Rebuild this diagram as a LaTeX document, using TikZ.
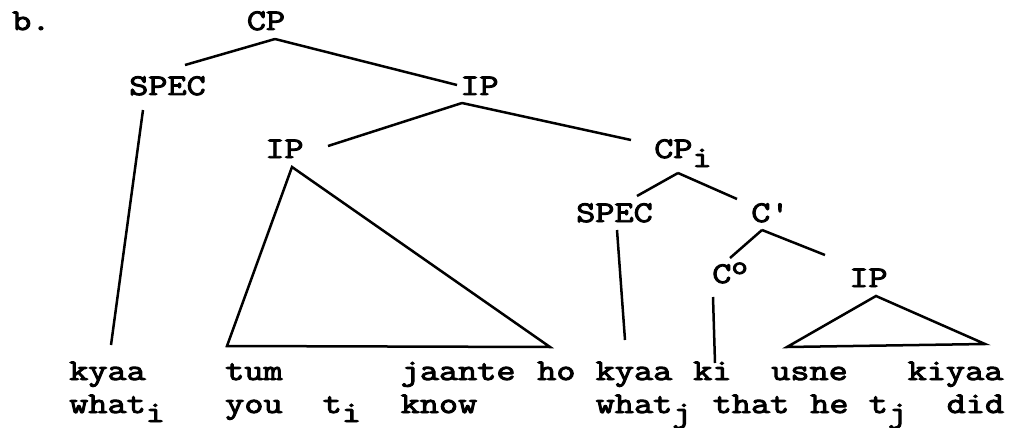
\documentclass[tikz,border=0pt]{standalone}
\usepackage{fontspec}
\setmonofont[FakeStretch=1.238, FakeBold=3.2]{Latin Modern Mono}
\newcommand{\lowr}[1]{\raisebox{-9pt}{#1}}
\newcommand{\highr}[1]{\raisebox{9pt}{\fontsize{26}{26}\selectfont #1}}
\begin{document}
\begin{tikzpicture}[x=1pt, y=-1pt, line width=2.5pt,
        every node/.style={inner sep=0pt, font=\ttfamily\fontsize{30}{36}\selectfont},
        lab/.style={anchor=base},
        word/.style={anchor=base west}]
            \useasboundingbox (0,0) rectangle (1009,428);

            \node[word] (item) at (11, 30) {b.};

            % categories
            \node[lab] (cp) at (266, 30) {CP};
            \node[lab] (spec) at (167.5, 95) {SPEC};
            \node[lab] (ip) at (479.5, 95) {IP};
            \node[lab] (iplow) at (284.5, 158) {IP};
            \node[word] (cpi) at (653, 158) {CP\lowr{i}};
            \node[lab] (specj) at (614.5, 222) {SPEC};
            \node[word] (cbar) at (750, 222) {C'};
            \node[word] (czero) at (711, 283) {C\highr{o}};
            \node[lab] (ipc) at (868.5, 287) {IP};

            % end points of the branches
            \coordinate (cpb) at (275, 39);
            \coordinate (spect) at (185, 65);
            \coordinate (ipt) at (457, 85);
            \coordinate (specb) at (143, 110);
            \coordinate (kyaat) at (111, 345);
            \coordinate (ipb) at (462, 103);
            \coordinate (iplowt) at (328, 146);
            \coordinate (cpit) at (631, 140);
            \coordinate (iplowb) at (292, 167);
            \coordinate (triL) at (227, 346);
            \coordinate (triR) at (550, 347);
            \coordinate (cpib) at (678, 173);
            \coordinate (specjt) at (637, 196);
            \coordinate (cbart) at (737, 199);
            \coordinate (specjb) at (617, 230);
            \coordinate (kyaajt) at (625, 340);
            \coordinate (cbarb) at (762, 230);
            \coordinate (czerot) at (730, 258);
            \coordinate (ipct) at (825, 255);
            \coordinate (czerob) at (713, 297);
            \coordinate (kit) at (715, 363);
            \coordinate (ipcb) at (876, 296);
            \coordinate (ctriL) at (787, 347);
            \coordinate (ctriR) at (985, 344);

            \draw (cpb) to (spect);
            \draw (cpb) to (ipt);
            \draw (specb) to (kyaat);
            \draw (ipb) to (iplowt);
            \draw (ipb) to (cpit);
            \draw (iplowb) -- (triL) -- (triR) -- cycle;
            \draw (cpib) to (specjt);
            \draw (cpib) to (cbart);
            \draw (specjb) to (kyaajt);
            \draw (cbarb) to (czerot);
            \draw (cbarb) to (ipct);
            \draw (czerob) to (kit);
            \draw (ipcb) -- (ctriL) -- (ctriR) -- cycle;

            % hindi line, one word per typewriter column
            \foreach \w/\c in {kyaa/0, tum/8, jaante/17, ho/24, kyaa/27, ki/32, usne/36, kiyaa/43}{
                \node[word] (h\c) at (68 + 19.5*\c, 380) {\w};
            }

            % gloss line
            \foreach \w/\c in {what\lowr{i}/0, you/8, t\lowr{i}/13, know/17,
                               what\lowr{j}/27, that/33, he/38, t\lowr{j}/41, did/45}{
                \node[word] (g\c) at (68 + 19.5*\c, 413) {\w};
            }
        \end{tikzpicture}
\end{document}
